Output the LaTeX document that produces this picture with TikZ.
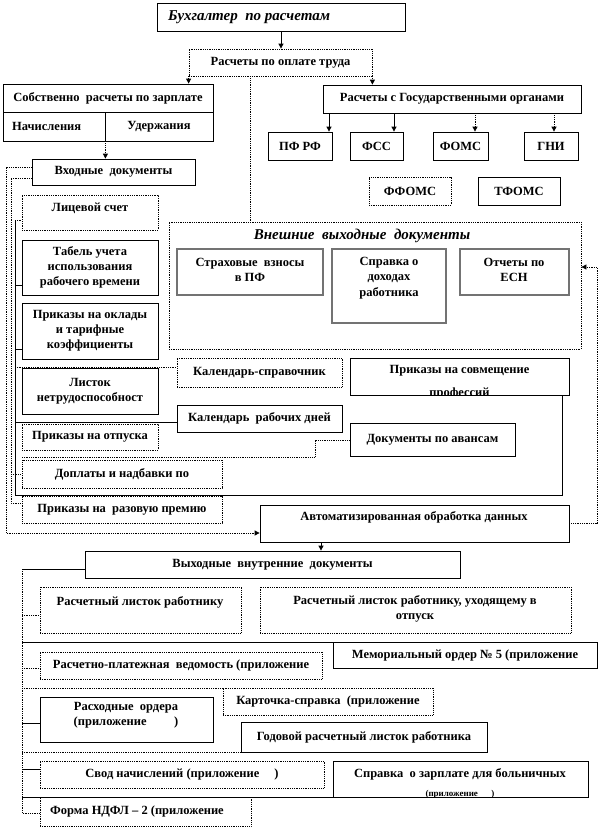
\documentclass[tikz,border=0pt]{standalone}
\usepackage{fontspec}
\setmainfont{Liberation Serif}
\usetikzlibrary{arrows.meta}
\tikzset{
  bx/.style={draw, line width=0.8pt, inner sep=0pt, align=center, font=\fontsize{12.5}{15}\selectfont\bfseries},
  dbx/.style={bx, densely dotted},
  gbx/.style={draw=black!55, line width=1.3pt, inner sep=0pt},
  tx/.style={font=\fontsize{12.5}{15.5}\selectfont\bfseries, inner sep=0pt, align=center},
  ti/.style={font=\fontsize{15}{17}\selectfont\bfseries\itshape, inner sep=0pt},
  sm/.style={font=\fontsize{9}{10}\selectfont\bfseries, inner sep=0pt},
  sl/.style={line width=0.8pt},
  dl/.style={line width=0.8pt, densely dotted},
  arr/.style={-{Triangle[length=5pt,width=5pt]}},
}
\newcommand\Bx[7]{\node[#6, minimum width={(#4-#2)*1pt}, minimum height={(#5-#3)*1pt}] (#1) at ({(#2+#4)/2},{(#3+#5)/2}) {#7};}
\begin{document}
\begin{tikzpicture}[x=1pt,y=-1pt]
\fill[white] (0,0) rectangle (600,828);
\useasboundingbox (0,0) rectangle (600,828);
% top
\Bx{b0}{157}{3}{405}{31}{bx}{}
\node[ti, anchor=west] (b0t) at (168,17) {Бухгалтер\ \ по расчетам};
\Bx{b1}{189}{49}{372}{76}{dbx}{Расчеты по оплате труда}
\Bx{b2}{3}{84}{213}{112}{bx}{Собственно\ \ расчеты по зарплате}
\Bx{b2a}{3}{112}{105}{141}{bx}{}
\node[tx, anchor=west] (b2at) at (12,126) {Начисления};
\Bx{b2b}{105}{112}{213}{141}{bx}{Удержания}
\Bx{gos}{323}{85}{581}{113}{bx}{Расчеты с Государственными органами}
\Bx{pf}{268}{132}{332}{160}{bx}{ПФ РФ}
\Bx{fss}{350}{132}{403}{160}{bx}{ФСС}
\Bx{foms}{433}{132}{488}{160}{bx}{ФОМС}
\Bx{gni}{524}{132}{578}{160}{bx}{ГНИ}
\Bx{ffoms}{369}{177}{451}{205}{dbx}{ФФОМС}
\Bx{tfoms}{478}{177}{560}{205}{bx}{ТФОМС}
% input documents
\Bx{vhod}{32}{159}{195}{185}{bx}{Входные\ \ документы}
\Bx{lic}{22}{195}{158}{230}{dbx}{}
\node[tx] (lict) at (90,208) {Лицевой счет};
\Bx{tab}{22}{240}{158}{295}{bx}{Табель учета\\использования\\рабочего времени}
\Bx{prik}{22}{303}{158}{359}{bx}{Приказы на оклады\\и тарифные\\коэффициенты}
\Bx{list}{22}{368}{158}{414}{bx}{Листок\\нетрудоспособност}
\Bx{otp}{22}{424}{158}{450}{dbx}{Приказы на отпуска}
\Bx{dopl}{22}{460}{222}{488}{dbx}{Доплаты и надбавки по}
\Bx{raz}{22}{496}{222}{523}{dbx}{Приказы на\ \ разовую премию}
% external output
\Bx{vnesh}{169}{222}{581}{349}{dbx}{}
\node[ti] (vnesht) at (362,236) {Внешние\ \ выходные\ \ документы};
\Bx{strah}{177}{249}{323}{295}{gbx}{}
\node[tx] (straht) at (250,270) {Страховые\ \ взносы\\в ПФ};
\Bx{sprav}{332}{249}{446}{323}{gbx}{}
\node[tx] (spravt) at (389,278) {Справка о\\доходах\\работника};
\Bx{otch}{460}{249}{569}{295}{gbx}{}
\node[tx] (otcht) at (514,270) {Отчеты по\\ЕСН};
% middle
\Bx{kal1}{177}{358}{342}{387}{dbx}{Календарь-справочник}
\Bx{sovm}{350}{358}{569}{395}{bx}{}
\begin{scope}
\clip (350,358) rectangle (569,394.5);
\node[tx] (sovmt1) at (459.5,371) {Приказы на совмещение};
\node[tx] (sovmt2) at (459.5,393) {профессий};
\end{scope}
\Bx{kal2}{177}{405}{342}{432}{bx}{Календарь\ \ рабочих дней}
\Bx{avans}{350}{423}{515}{456}{bx}{Документы по авансам}
\Bx{auto}{260}{505}{569}{542}{bx}{}
\node[tx] (autot) at (414,517) {Автоматизированная обработка данных};
% internal output
\Bx{vyh}{85}{551}{460}{578}{bx}{Выходные\ \ внутренние\ \ документы}
\Bx{rl1}{40}{587}{241}{633}{dbx}{}
\node[tx] (rl1t) at (140,602) {Расчетный листок работнику};
\Bx{rl2}{260}{587}{571}{633}{dbx}{}
\node[tx] (rl2t) at (415,609) {Расчетный листок работнику, уходящему в\\отпуск};
\Bx{rpv}{40}{652}{322}{679}{dbx}{Расчетно-платежная\ \ ведомость (приложение}
\Bx{mem}{333}{642}{597}{668}{bx}{Мемориальный ордер № 5 (приложение}
\Bx{kart}{223}{688}{433}{715}{dbx}{Карточка-справка\ \ (приложение}
\Bx{rash}{40}{697}{213}{742}{bx}{}
\node[tx] (rasht) at (126,715) {Расходные\ \ ордера\\(приложение\hspace{2.2em})};
\Bx{god}{241}{722}{487}{752}{bx}{Годовой расчетный листок работника}
\Bx{svod}{40}{761}{324}{788}{dbx}{Свод начислений (приложение\hspace{1.2em})}
\Bx{spr}{333}{761}{588}{797}{bx}{}
\node[tx] (sprt1) at (460,774) {Справка\ \ о зарплате для больничных};
\begin{scope}
\clip (333,761) rectangle (588,796.5);
\node[sm] (sprt2) at (460,794) {(приложение\hspace{1.5em})};
\end{scope}
\Bx{ndfl}{40}{797}{251}{826}{dbx}{}
\node[tx, anchor=west] (ndflt) at (50,811) {Форма НДФЛ – 2 (приложение};
% ---------- connectors
\draw[sl,arr] (b0.south) -- (b0.south |- b1.north);
\draw[dl,arr] (b1.south west) -- (b1.south west |- b2.north);
\draw[dl,arr] (b1.south east) -- (b1.south east |- gos.north);
\coordinate (v1) at (250,0);
\draw[dl] (b1.south -| v1) -- (vnesh.north -| v1);
\coordinate (g1) at (329,0);
\coordinate (g2) at (394,0);
\coordinate (g3) at (475,0);
\coordinate (g4) at (554,0);
\draw[sl,arr] (gos.south -| g1) -- (pf.north -| g1);
\draw[sl,arr] (gos.south -| g2) -- (fss.north -| g2);
\draw[dl,arr] (gos.south -| g3) -- (foms.north -| g3);
\draw[dl,arr] (gos.south -| g4) -- (gni.north -| g4);
\draw[dl,arr] (b2a.south east) -- (b2a.south east |- vhod.north);
% left rails
\coordinate (o1) at ([yshift=5pt]vhod.west);
\coordinate (oL) at (6,533);
\draw[dl,arr] (o1) -- (o1 -| oL) -- (oL) -- (oL -| auto.west);
\coordinate (i1) at ([yshift=-6pt]vhod.west);
\coordinate (iL) at (11,503);
\draw[dl] (i1) -- (i1 -| iL) -- (iL) -- (iL -| raz.west);
\draw[dl] (iL |- dopl.west) -- (dopl.west);
\coordinate (sT) at (15,220);
\coordinate (sB) at (15,495);
\coordinate (sR) at (562,495);
\draw[sl] (sT) -- (sB) -- (sR) -- (sR |- sovm.south);
\draw[dl] (sT) -- (sT -| lic.west);
\coordinate (t1) at (15,285);
\draw[sl] (t1) -- (t1 -| tab.west);
\coordinate (t2) at (15,349);
\draw[sl] (t2) -- (t2 -| prik.west);
\coordinate (t3) at (15,367);
\draw[dl] (t3) -- (t3 -| kal1.west);
\coordinate (t4) at (15,422);
\draw[sl] (t4) -- (t4 -| kal2.west);
\coordinate (a1) at (22,457);
\coordinate (a2) at (315,440);
\draw[dl] (a1) -- (a1 -| a2) -- (a2) -- (a2 -| avans.west);
% right rail
\coordinate (rR) at (597,267);
\draw[dl,arr] (auto.east) -- (auto.east -| rR) -- (rR) -- (rR -| vnesh.east);
% lower
\coordinate (ax) at (321,0);
\draw[sl,arr] (auto.south -| ax) -- (vyh.north -| ax);
\coordinate (bL) at (22,569);
\coordinate (bB) at (22,813);
\draw[sl] (bL -| vyh.west) -- (bL);
\draw[dl] (bL) -- (bB) -- (bB -| ndfl.west);
\coordinate (u1) at (22,615);
\draw[dl] (u1) -- (u1 -| rl1.west);
\coordinate (u2) at (22,642);
\draw[sl] (u2) -- (u2 -| mem.west);
\coordinate (u3) at (22,668);
\draw[dl] (u3) -- (u3 -| rpv.west);
\coordinate (u4) at (22,688);
\draw[dl] (u4) -- (u4 -| kart.west);
\coordinate (u5) at (22,723);
\draw[sl] (u5) -- (u5 -| rash.west);
\coordinate (u6) at (22,752);
\draw[dl] (u6) -- (u6 -| god.west);
\coordinate (u7) at (22,769);
\draw[sl] (u7) -- (u7 -| svod.west);
\coordinate (u8) at (22,797);
\draw[sl] (u8) -- (u8 -| spr.west);
\end{tikzpicture}
\end{document}
